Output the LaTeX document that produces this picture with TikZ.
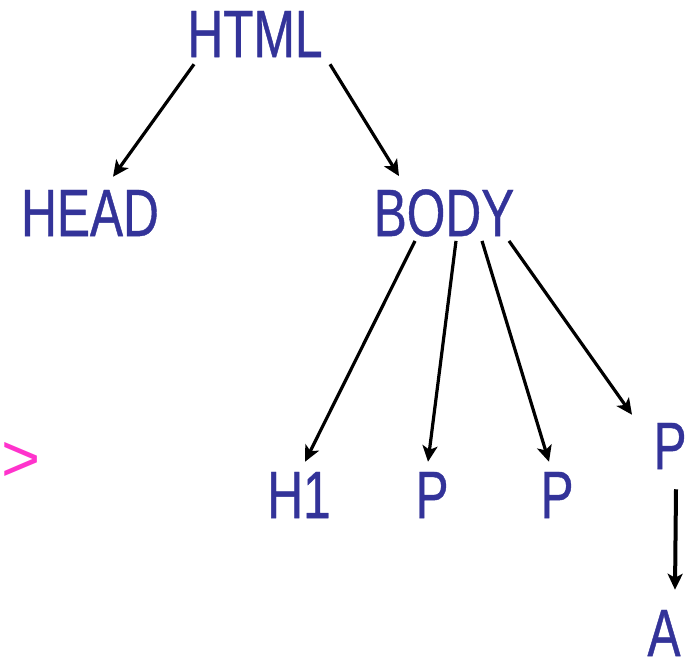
\documentclass[tikz,border=0pt]{standalone}
\usepackage{fontspec}
\newfontfamily\tagfont[FakeStretch=0.74,FakeBold=0.6]{Liberation Sans}
\newfontfamily\markfont{Liberation Sans}
\usetikzlibrary{arrows.meta}
\definecolor{tagblue}{RGB}{51,51,153}
\definecolor{tagpink}{RGB}{255,51,204}
\tikzset{
  tagname/.style={inner sep=0pt, text=tagblue, font=\tagfont\fontsize{67}{67}\selectfont},
  tagedge/.style={line width=3.2pt, -{Stealth[length=16pt,width=15pt,inset=4pt]}}
}
\begin{document}
\begin{tikzpicture}[x=1pt,y=-1pt]
            \useasboundingbox (0,0) rectangle (687,664);
            
            % Tag names of the tree
            \node [tagname] (html) at (255,34) {HTML};%
            \node [tagname] (head) at (90,213) {HEAD};%
            \node [tagname] (body) at (444,213) {BODY};%
            \node [tagname] (h1) at (299,495) {H1};%
            \node [tagname] (pone) at (432,495) {P};%
            \node [tagname] (ptwo) at (557,495) {P};%
            \node [tagname] (pthree) at (670,446) {P};%
            \node [tagname] (anchor) at (664,633) {A};%
            
            % Cut-off mark at the left edge
            \node [inner sep=0pt, text=tagpink, font=\markfont\fontsize{67}{67}\selectfont] (gt) at (21,462) {>};%
            
            % Edges from HTML
            \draw [tagedge] ([xshift=-61pt,yshift=-7pt]html.south) -- ([xshift=23pt,yshift=13pt]head.north);%
            \draw [tagedge] ([xshift=75pt,yshift=-7pt]html.south) -- ([xshift=-45pt,yshift=13pt]body.north);%
            
            % Edges from BODY
            \draw [tagedge] ([xshift=-29pt,yshift=-4pt]body.south) -- ([xshift=6pt,yshift=10pt]h1.north);%
            \draw [tagedge] ([xshift=12pt,yshift=-4pt]body.south) -- ([xshift=-4pt,yshift=10pt]pone.north);%
            \draw [tagedge] ([xshift=38pt,yshift=-4pt]body.south) -- ([xshift=-8pt,yshift=10pt]ptwo.north);%
            \draw [tagedge] ([xshift=65pt,yshift=-4pt]body.south) -- ([xshift=-38pt,yshift=8pt]pthree.north);%
            
            % Edge from the last P
            \draw [tagedge, line width=4pt] ([xshift=6pt,yshift=-20pt]pthree.south) -- ([xshift=11pt,yshift=20pt]anchor.north);%
\end{tikzpicture}
\end{document}
